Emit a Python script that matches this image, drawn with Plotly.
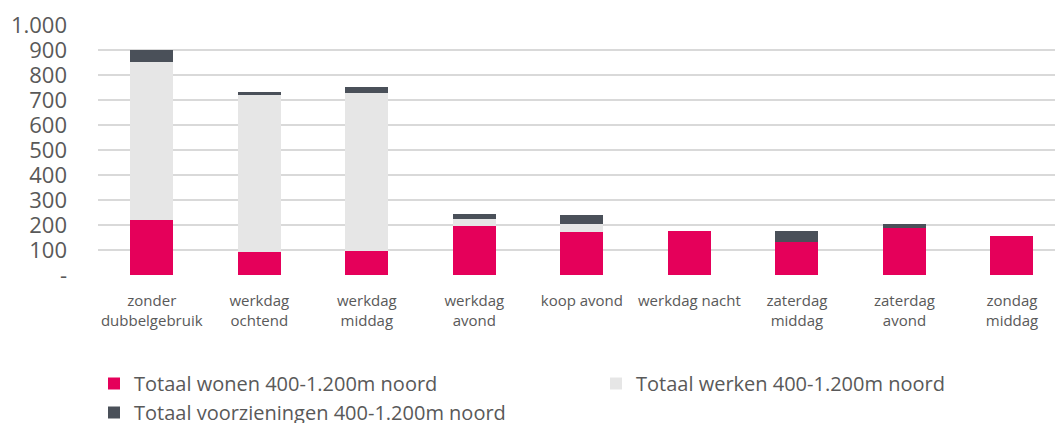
import plotly.graph_objects as go

categories = ["zonder<br>dubbelgebruik", "werkdag<br>ochtend", "werkdag<br>middag",
              "werkdag<br>avond", "koop avond", "werkdag nacht", "zaterdag<br>middag",
              "zaterdag<br>avond", "zondag<br>middag"]
wonen = [222, 91, 95, 195, 173, 175, 133, 187, 157]
werken = [631, 631, 632, 31, 32, 0, 0, 0, 0]
voorzieningen = [47, 11, 27, 19, 36, 0, 45, 19, 0]
series_names = ["Totaal wonen 400-1.200m noord", "Totaal werken 400-1.200m noord",
                "Totaal voorzieningen 400-1.200m noord"]
y_tickvals = [0, 100, 200, 300, 400, 500, 600, 700, 800, 900, 1000]
y_ticktext = ["-", "100", "200", "300", "400", "500", "600", "700", "800", "900", "1.000"]

colors = ["#E5005A", "#E6E6E6", "#4A5059"]
legend_ids = ["legend", "legend2", "legend"]
x = list(range(len(categories)))

fig = go.Figure()
for name, vals, col, lg in zip(series_names, [wonen, werken, voorzieningen], colors, legend_ids):
    fig.add_trace(go.Bar(x=x, y=vals, name=name, marker=dict(color=col, line=dict(width=0)),
                         width=0.4, legend=lg))

FONT = "Open Sans"
legend_common = dict(orientation="h", xref="container", yref="container",
                     xanchor="left", yanchor="top", itemwidth=30,
                     font=dict(size=20, color="#595959"), traceorder="normal",
                     tracegroupgap=0, itemclick=False, bgcolor="rgba(0,0,0,0)",
                     entrywidthmode="pixels")
fig.update_layout(
    barmode="stack",
    width=1055, height=423,
    margin=dict(l=98, r=0, t=25, b=148, autoexpand=False),
    paper_bgcolor="white", plot_bgcolor="white",
    font=dict(family=FONT, color="#595959"),
    xaxis=dict(tickvals=x, ticktext=categories, range=[-0.5, 8.4],
               showgrid=False, zeroline=False, showline=False, automargin=False,
               tickfont=dict(size=15, color="#595959"), ticks="", ticklabelstandoff=15),
    yaxis=dict(range=[0, 1000], tickvals=y_tickvals, ticktext=y_ticktext, automargin=False,
               showgrid=True, gridcolor="#D9D9D9", gridwidth=1.5, zeroline=False,
               showline=False, ticks="", ticklabelstandoff=30,
               tickfont=dict(size=22, color="#595959")),
    legend=dict(x=94 / 1055, y=1 - 364 / 423, entrywidth=700, **legend_common),
    legend2=dict(x=596 / 1055, y=1 - 364 / 423, entrywidth=400, **legend_common),
    showlegend=True,
)
fig.write_html("out.html")
